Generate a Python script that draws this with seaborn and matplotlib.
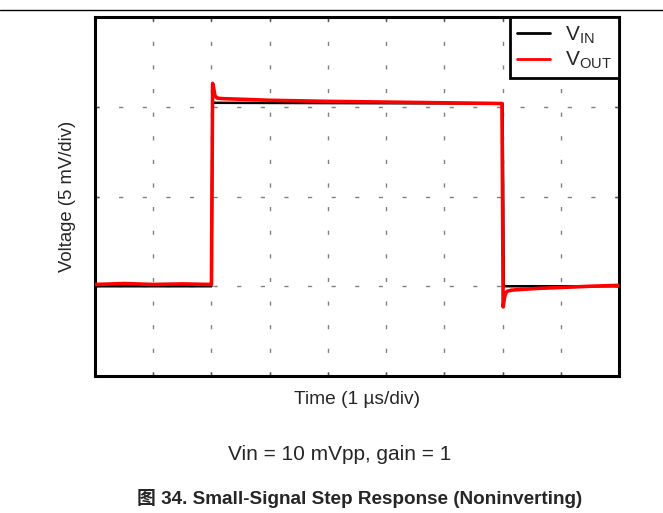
import matplotlib
matplotlib.use("Agg")
import matplotlib.pyplot as plt
import seaborn as sns
import pandas as pd
from matplotlib.lines import Line2D

# ---- data (time in us, voltage in mV) ----
time_in = [0.0, 2.0, 2.02, 7.0, 7.02, 9.0]
v_in = [-5.0, -5.0, 5.22, 5.18, -5.0, -5.0]

time_out = [0.0, 0.5, 1.0, 1.5, 1.98, 2.0, 2.02, 2.04, 2.06, 2.1, 2.2, 2.5, 3.0,
            4.0, 5.0, 6.0, 6.5, 6.99, 7.01, 7.03, 7.05, 7.08, 7.15, 7.3, 7.6,
            8.0, 8.5, 9.0]
v_out = [-4.9, -4.85, -4.9, -4.87, -4.9, -4.9, 6.3, 6.0, 5.6, 5.48, 5.45, 5.42, 5.36,
         5.3, 5.26, 5.22, 5.2, 5.18, -6.15, -5.7, -5.4, -5.28, -5.22, -5.18, -5.12,
         -5.07, -5.0, -4.95]

x_ticks = [1, 2, 3, 4, 5, 6, 7, 8]
y_ticks = [-5, 0, 5]
series_names = ["V$_{\\mathrm{IN}}$", "V$_{\\mathrm{OUT}}$"]
series_colors = ["black", "#ff0000"]

sns.set_style("white")
plt.rcParams["font.family"] = ["Liberation Sans", "Noto Sans CJK SC", "DejaVu Sans"]
plt.rcParams["mathtext.fontset"] = "custom"
plt.rcParams["mathtext.rm"] = "Liberation Sans"
plt.rcParams["mathtext.it"] = "Liberation Sans:italic"
plt.rcParams["mathtext.bf"] = "Liberation Sans:bold"

fig = plt.figure(figsize=(6.63, 5.13), dpi=100)
ax = fig.add_axes([95 / 663, 1 - 376 / 513, 524 / 663, 359 / 513])

df_in = pd.DataFrame({"t": time_in, "v": v_in})
df_out = pd.DataFrame({"t": time_out, "v": v_out})
sns.lineplot(data=df_in, x="t", y="v", ax=ax, color=series_colors[0], lw=1.8,
             estimator=None, sort=False, zorder=3)
sns.lineplot(data=df_out, x="t", y="v", ax=ax, color=series_colors[1], lw=2.6,
             estimator=None, sort=False, zorder=4)

ax.set_xlim(0, 9)
ax.set_ylim(-10, 10)
ax.set_xticks(x_ticks)
ax.set_yticks(y_ticks)
ax.set_xticklabels([])
ax.set_yticklabels([])
ax.tick_params(direction="in", length=3, width=1, color="#555555",
               top=True, right=True, bottom=True, left=True)
ax.grid(True, color="#808080", linestyle=(0, (3, 14)), linewidth=1)
for s in ax.spines.values():
    s.set_color("black")
    s.set_linewidth(2.2)

ax.set_xlabel("Time (1 µs/div)", fontsize=13.8)
ax.set_ylabel("Voltage (5 mV/div)", fontsize=13.3)
ax.xaxis.set_label_coords(0.5, -0.041)
ax.yaxis.set_label_coords(-0.037, 0.5)

handles = [Line2D([], [], color=c, lw=2) for c in series_colors]
leg = ax.legend(handles, series_names, loc="upper right", borderaxespad=0,
                fancybox=False, framealpha=1, edgecolor="black", fontsize=15,
                handlelength=1.6, handletextpad=0.7, labelspacing=0.2,
                borderpad=0.35, handleheight=0.6)
leg.get_frame().set_linewidth(2)

fig.add_artist(Line2D([0, 1], [1 - 9.5 / 513, 1 - 9.5 / 513], color="black", lw=1,
                      transform=fig.transFigure))
fig.text(228 / 663, 1 - 455 / 513, "Vin = 10 mVpp, gain = 1", fontsize=15,
         ha="left", va="center")
fig.text(360 / 663, 1 - 498 / 513, "图 34. Small-Signal Step Response (Noninverting)",
         fontsize=13.6, fontweight="bold", ha="center", va="center")

fig.savefig("out.png", dpi=100)
